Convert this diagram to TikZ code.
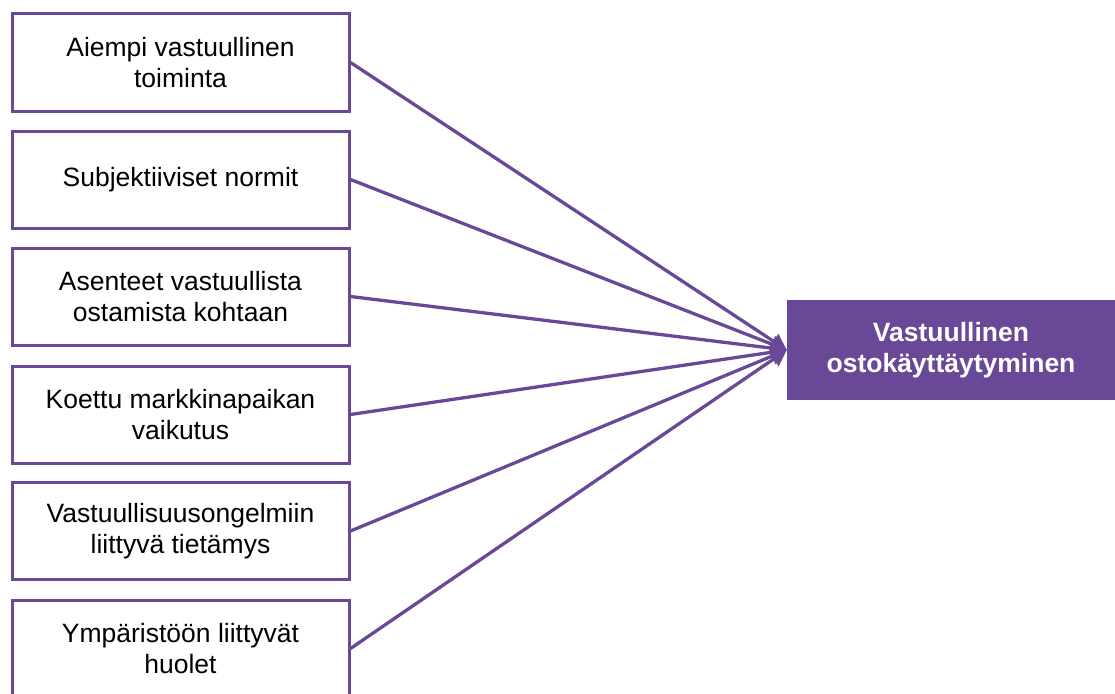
\documentclass[tikz,border=0pt]{standalone}
\usepackage{fontspec}
\setmainfont{Liberation Sans}
\usetikzlibrary{arrows.meta}
\definecolor{vio}{RGB}{106,72,152}
\tikzset{
  srcbox/.style={draw=vio, line width=3pt, fill=white, minimum width=337pt, minimum height=97pt, align=center, inner sep=0pt, font=\fontsize{26.5}{31.5}\selectfont},
  tgtbox/.style={fill=vio, text=white, minimum width=328pt, minimum height=100pt, align=center, inner sep=0pt, font=\fontsize{26.5}{31.5}\selectfont\bfseries},
  link/.style={draw=vio, line width=3.3pt, -{Triangle[length=16pt,width=17pt]}}
}
\begin{document}
\begin{tikzpicture}[x=1pt,y=-1pt]
\useasboundingbox (0,0) rectangle (1115,693);
\node[srcbox] (a) at (180.5,62.5) {Aiempi vastuullinen\\toiminta};
\node[srcbox] (b) at (180.5,179.5) {Subjektiiviset normit};
\node[srcbox] (c) at (180.5,296.5) {Asenteet vastuullista\\ostamista kohtaan};
\node[srcbox] (d) at (180.5,414.5) {Koettu markkinapaikan\\vaikutus};
\node[srcbox] (e) at (180.5,531) {Vastuullisuusongelmiin\\liittyvä tietämys};
\node[srcbox] (f) at (180.5,648.5) {Ympäristöön liittyvät\\huolet};
\node[tgtbox] (t) at (951,350) {Vastuullinen\\ostokäyttäytyminen};
\foreach \s in {a,b,c,d,e,f} \draw[link] (\s.east) -- (t.west);
\end{tikzpicture}
\end{document}
